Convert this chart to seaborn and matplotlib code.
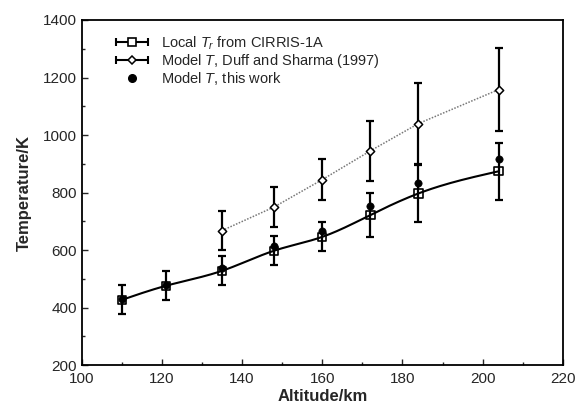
import numpy as np
import pandas as pd
import matplotlib
matplotlib.use("Agg")
import matplotlib.pyplot as plt
from matplotlib.lines import Line2D
from matplotlib.legend_handler import HandlerTuple, HandlerLine2D
from matplotlib.ticker import MultipleLocator
import seaborn as sns

# Data
alt_local = [110, 121, 135, 148, 160, 172, 184, 204]
temp_local = [427, 476, 528, 598, 646, 722, 797, 874]
err_local = [50, 50, 50, 50, 50, 75, 100, 100]

alt_duff = [135, 148, 160, 172, 184, 204]
temp_duff = [668, 750, 845, 945, 1040, 1158]
err_duff = [68, 70, 70, 105, 142, 145]

alt_work = [110, 121, 135, 148, 160, 172, 184, 204]
temp_work = [430, 480, 537, 613, 665, 752, 832, 915]

x_ticks = [100, 120, 140, 160, 180, 200, 220]
y_ticks = [200, 400, 600, 800, 1000, 1200, 1400]

sns.set_style("ticks")
plt.rcParams['font.family'] = ['Liberation Sans', 'DejaVu Sans']
plt.rcParams['mathtext.fontset'] = 'custom'
plt.rcParams['mathtext.it'] = 'Liberation Sans:italic'
plt.rcParams['mathtext.rm'] = 'Liberation Sans'

fig = plt.figure(figsize=(5.76, 4.08), dpi=100)
ax = fig.add_axes([0.142, 0.105, 0.835, 0.846])


def natural_spline(x, y, n=30):
    x = np.asarray(x, float)
    y = np.asarray(y, float)
    m = len(x)
    h = np.diff(x)
    A = np.zeros((m, m))
    b = np.zeros(m)
    A[0, 0] = A[-1, -1] = 1
    for i in range(1, m - 1):
        A[i, i - 1] = h[i - 1]
        A[i, i] = 2 * (h[i - 1] + h[i])
        A[i, i + 1] = h[i]
        b[i] = 3 * ((y[i + 1] - y[i]) / h[i] - (y[i] - y[i - 1]) / h[i - 1])
    c = np.linalg.solve(A, b)
    xs, ys = [], []
    for i in range(m - 1):
        bb = (y[i + 1] - y[i]) / h[i] - h[i] * (2 * c[i] + c[i + 1]) / 3
        d = (c[i + 1] - c[i]) / (3 * h[i])
        t = np.linspace(0, h[i], n, endpoint=False)
        xs.extend(x[i] + t)
        ys.extend(y[i] + bb * t + c[i] * t ** 2 + d * t ** 3)
    xs.append(x[-1]); ys.append(y[-1])
    return np.array(xs), np.array(ys)

sx, sy = natural_spline(alt_local, temp_local)
curve = pd.DataFrame({"x": sx, "y": sy})
sns.lineplot(data=curve, x="x", y="y", sort=False, color="black", lw=1.5, ax=ax, zorder=3)

duff = pd.DataFrame({"x": alt_duff, "y": temp_duff})
sns.lineplot(data=duff, x="x", y="y", color="#777777", lw=1.1, ls=(0, (1, 1)), ax=ax, zorder=2)

ax.errorbar(alt_duff, temp_duff, yerr=err_duff, fmt="none", ecolor="black",
            elinewidth=1.6, capsize=3.2, capthick=1.6, zorder=2)
ax.errorbar(alt_local, temp_local, yerr=err_local, fmt="none", ecolor="black",
            elinewidth=1.6, capsize=3.2, capthick=1.6, zorder=2)

work = pd.DataFrame({"x": alt_work, "y": temp_work})
sns.scatterplot(data=work, x="x", y="y", color="black", s=28, marker="o",
                edgecolor="black", ax=ax, zorder=5)
sns.scatterplot(data=duff, x="x", y="y", color="white", s=18, marker="D",
                edgecolor="black", linewidth=1.1, ax=ax, zorder=4)
local = pd.DataFrame({"x": alt_local, "y": temp_local})
sns.scatterplot(data=local, x="x", y="y", color="none", s=36, marker="s",
                edgecolor="black", linewidth=1.2, ax=ax, zorder=6)

ax.set_xlim(100, 220)
ax.set_ylim(200, 1400)
ax.set_xticks(x_ticks)
ax.set_yticks(y_ticks)
ax.xaxis.set_minor_locator(MultipleLocator(10))
ax.yaxis.set_minor_locator(MultipleLocator(100))
ax.tick_params(which="both", direction="in", top=False, right=False, labelsize=11, width=1)
ax.tick_params(which="major", length=4)
ax.tick_params(which="minor", length=2.5)
ax.tick_params(axis="x", pad=5)
for s in ax.spines.values():
    s.set_linewidth(1.3)
    s.set_color("black")
ax.set_xlabel("Altitude/km", fontsize=12, fontweight="bold", labelpad=2)
ax.set_ylabel("Temperature/K", fontsize=12, fontweight="bold", labelpad=8)

# legend
cap1 = Line2D([], [], color="black", marker="|", markersize=6, mew=1.5, lw=1.5)
mk1 = Line2D([], [], color="black", marker="s", mfc="white", mec="black", markersize=6, mew=1.2, ls="none")
cap2 = Line2D([], [], color="black", marker="|", markersize=6, mew=1.5, lw=1.5)
mk2 = Line2D([], [], color="black", marker="D", mfc="white", mec="black", markersize=4.5, mew=1.1, ls="none")
dot = Line2D([], [], color="black", marker="o", markersize=5.5, ls="none")
handles = [(cap1, mk1), (cap2, mk2), dot]
labels = ["Local $T_r$ from CIRRIS-1A", "Model $T$, Duff and Sharma (1997)", "Model $T$, this work"]
ax.legend(handles, labels, loc="upper left", bbox_to_anchor=(0.05, 0.975), frameon=False,
          numpoints=1, handlelength=2.8, handletextpad=0.6, labelspacing=0.0, fontsize=10.5,
          borderaxespad=0,
          handler_map={tuple: HandlerTuple(ndivide=1, pad=0), cap1: HandlerLine2D(numpoints=2),
                       cap2: HandlerLine2D(numpoints=2)})

fig.savefig("out.png", dpi=100)
